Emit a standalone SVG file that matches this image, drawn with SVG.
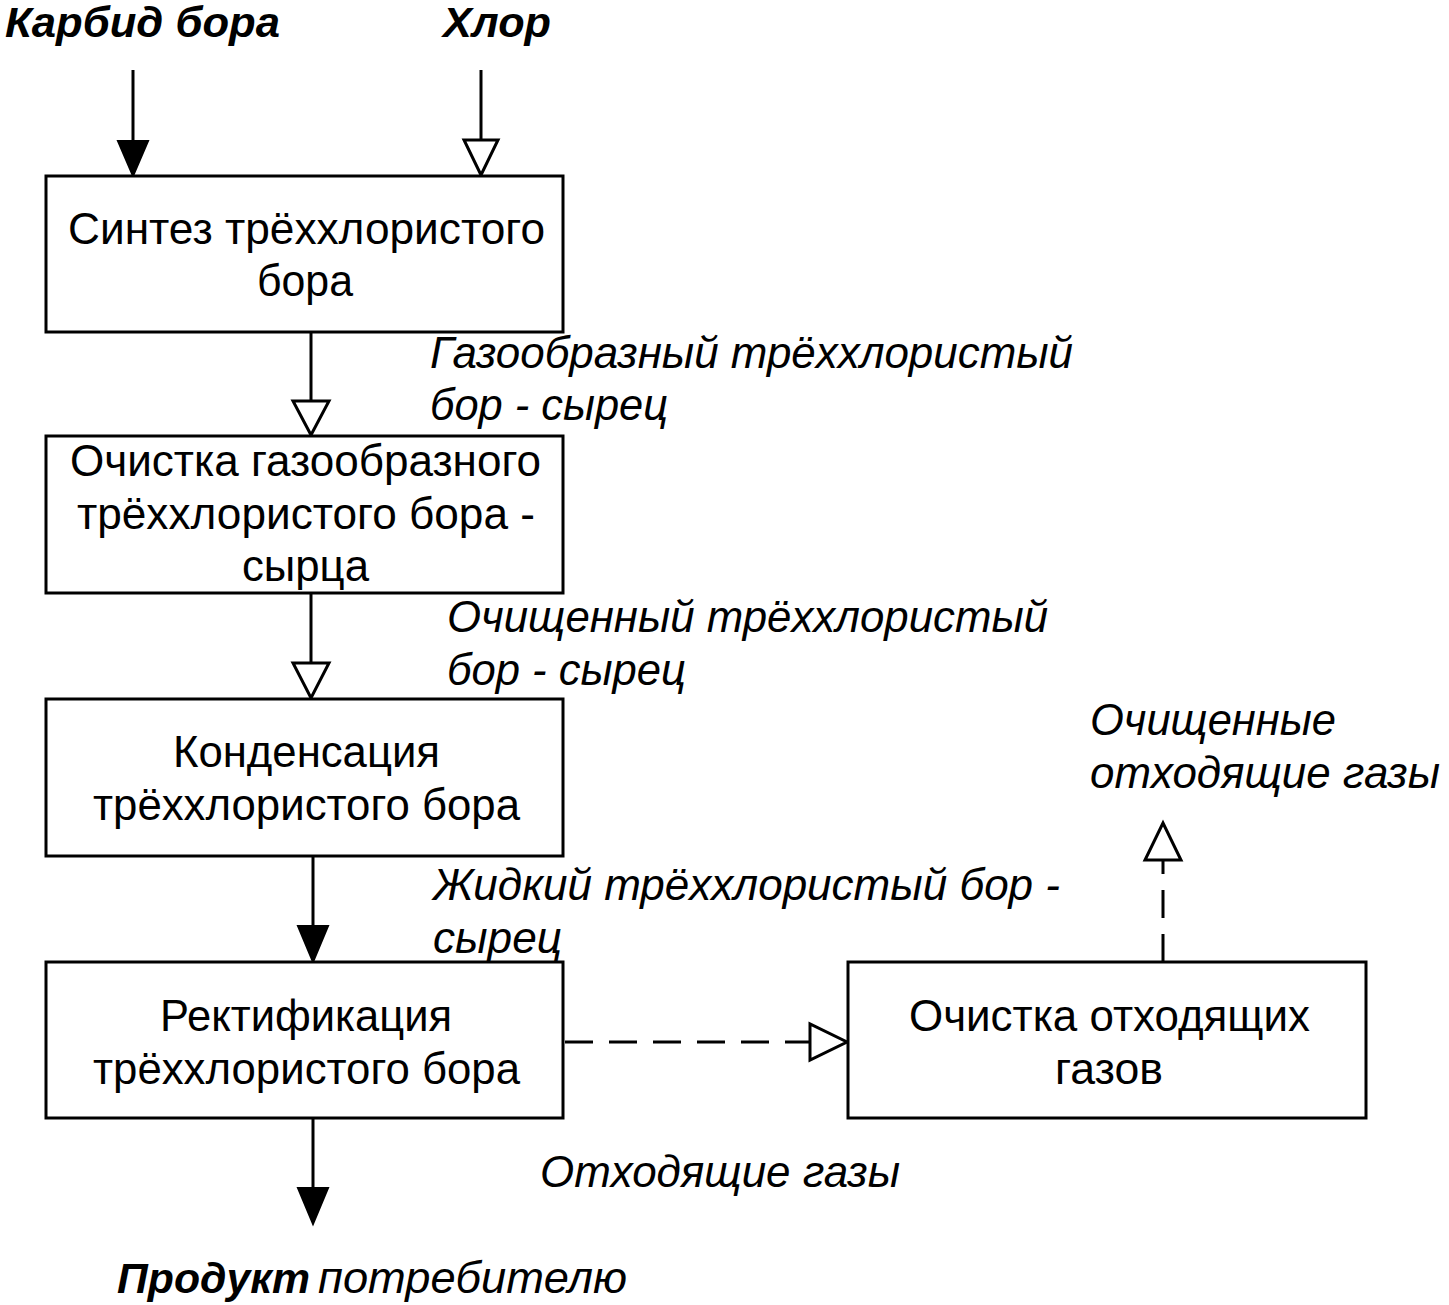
<svg xmlns="http://www.w3.org/2000/svg" width="1449" height="1305" viewBox="0 0 1449 1305">
<style>
.box{fill:#fff;stroke:#000;stroke-width:3}
.ln{fill:none;stroke:#000;stroke-width:3}
.dash{fill:none;stroke:#000;stroke-width:3;stroke-dasharray:28 16}
.fh{fill:#000;stroke:#000;stroke-width:2}
.oh{fill:#fff;stroke:#000;stroke-width:3;stroke-linejoin:miter}
.t{font-family:"Liberation Sans",Arial,sans-serif;font-size:44px;fill:#000}
.i{font-family:"Liberation Sans",Arial,sans-serif;font-size:44px;font-style:italic;fill:#000}
.bi{font-family:"Liberation Sans",Arial,sans-serif;font-size:42px;font-style:italic;font-weight:bold;fill:#000}
</style>
<rect width="1449" height="1305" fill="#fff"/>
<g id="connectors">
<line class="ln" x1="133" y1="70" x2="133" y2="142"/>
<polygon class="fh" points="118,141 148,141 133,176"/>
<line class="ln" x1="481" y1="70" x2="481" y2="140"/>
<polygon class="oh" points="464,140 498,140 481,175"/>
<line class="ln" x1="311" y1="332" x2="311" y2="401"/>
<polygon class="oh" points="293,401 329,401 311,435"/>
<line class="ln" x1="311" y1="593" x2="311" y2="663"/>
<polygon class="oh" points="293,663 329,663 311,698"/>
<line class="ln" x1="313" y1="856" x2="313" y2="927"/>
<polygon class="fh" points="298,926 328,926 313,962"/>
<line class="ln" x1="313" y1="1118" x2="313" y2="1189"/>
<polygon class="fh" points="298,1188 328,1188 313,1224"/>
<line class="dash" x1="565" y1="1042" x2="810" y2="1042"/>
<polygon class="oh" points="810,1024 810,1060 847,1042"/>
<line class="dash" x1="1163" y1="962" x2="1163" y2="860"/>
<polygon class="oh" points="1145,860 1181,860 1163,823"/>
</g>
<g id="n1"><rect class="box" x="46" y="176" width="517" height="156"/>
<text class="t" x="68" y="244" textLength="477" lengthAdjust="spacingAndGlyphs">Синтез трёххлористого</text>
<text class="t" x="257" y="296" textLength="96" lengthAdjust="spacingAndGlyphs">бора</text></g>
<g id="n2"><rect class="box" x="46" y="436" width="517" height="157"/>
<text class="t" x="70" y="476" textLength="471" lengthAdjust="spacingAndGlyphs">Очистка газообразного</text>
<text class="t" x="77" y="529" textLength="458" lengthAdjust="spacingAndGlyphs">трёххлористого бора -</text>
<text class="t" x="242" y="581" textLength="127" lengthAdjust="spacingAndGlyphs">сырца</text></g>
<g id="n3"><rect class="box" x="46" y="699" width="517" height="157"/>
<text class="t" x="173" y="767" textLength="267" lengthAdjust="spacingAndGlyphs">Конденсация</text>
<text class="t" x="93" y="820" textLength="427" lengthAdjust="spacingAndGlyphs">трёххлористого бора</text></g>
<g id="n4"><rect class="box" x="46" y="962" width="517" height="156"/>
<text class="t" x="160" y="1031" textLength="292" lengthAdjust="spacingAndGlyphs">Ректификация</text>
<text class="t" x="93" y="1084" textLength="427" lengthAdjust="spacingAndGlyphs">трёххлористого бора</text></g>
<g id="n5"><rect class="box" x="848" y="962" width="518" height="156"/>
<text class="t" x="909" y="1031" textLength="401" lengthAdjust="spacingAndGlyphs">Очистка отходящих</text>
<text class="t" x="1055" y="1084" textLength="108" lengthAdjust="spacingAndGlyphs">газов</text></g>
<g id="labels">
<text class="bi" x="5" y="37" textLength="275" lengthAdjust="spacingAndGlyphs">Карбид бора</text>
<text class="bi" x="443" y="37" textLength="108" lengthAdjust="spacingAndGlyphs">Хлор</text>
<text class="i" x="430" y="368" textLength="643" lengthAdjust="spacingAndGlyphs">Газообразный трёххлористый</text>
<text class="i" x="430" y="420" textLength="238" lengthAdjust="spacingAndGlyphs">бор - сырец</text>
<text class="i" x="447" y="632" textLength="601" lengthAdjust="spacingAndGlyphs">Очищенный трёххлористый</text>
<text class="i" x="447" y="685" textLength="239" lengthAdjust="spacingAndGlyphs">бор - сырец</text>
<text class="i" x="433" y="900" textLength="627" lengthAdjust="spacingAndGlyphs">Жидкий трёххлористый бор -</text>
<text class="i" x="433" y="953" textLength="129" lengthAdjust="spacingAndGlyphs">сырец</text>
<text class="i" x="1090" y="735" textLength="246" lengthAdjust="spacingAndGlyphs">Очищенные</text>
<text class="i" x="1090" y="788" textLength="350" lengthAdjust="spacingAndGlyphs">отходящие газы</text>
<text class="i" x="540" y="1187" textLength="360" lengthAdjust="spacingAndGlyphs">Отходящие газы</text>
<text class="bi" x="117" y="1293" textLength="193" lengthAdjust="spacingAndGlyphs">Продукт</text>
<text class="i" x="318" y="1293" textLength="309" lengthAdjust="spacingAndGlyphs">потребителю</text>
</g>
</svg>
